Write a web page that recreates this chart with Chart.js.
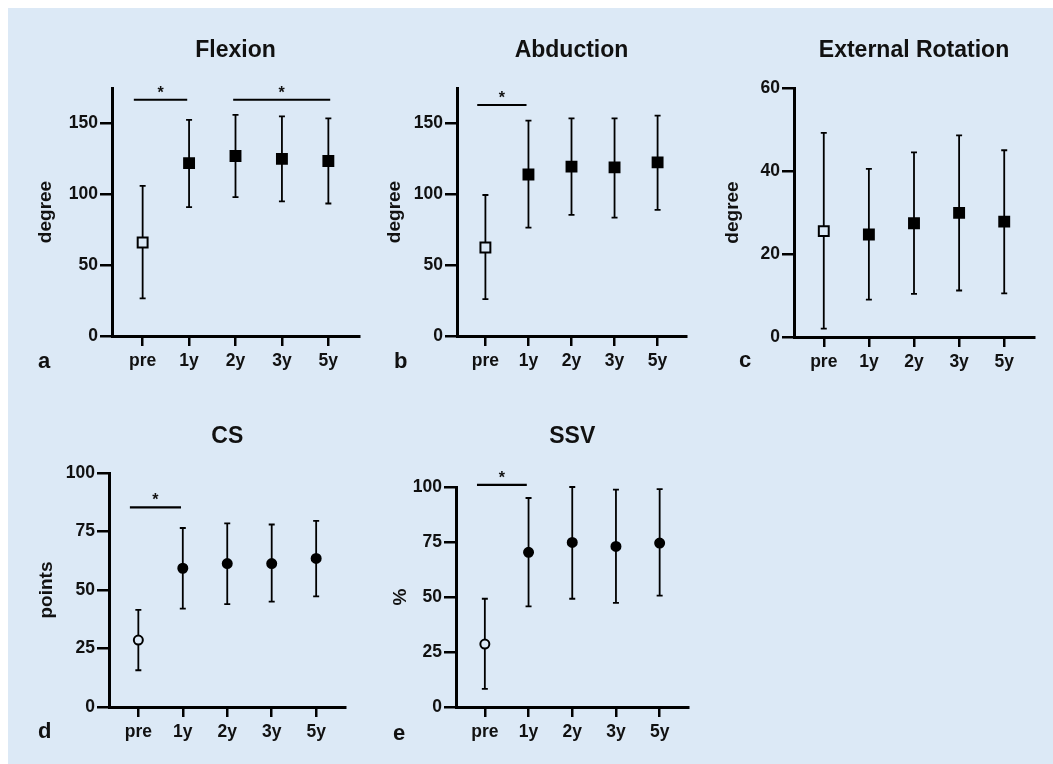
<!DOCTYPE html>
<html lang="en">
<head>
<meta charset="UTF-8">
<title>Range of motion and shoulder scores</title>
<script src="https://cdn.jsdelivr.net/npm/chart.js@4"></script>
<style>
  html, body { margin: 0; padding: 0; background: #fff; }
  #page { position: relative; width: 1053px; height: 764px; background: #fff; overflow: hidden; }
  #panel { position: absolute; left: 8px; top: 8px; right: 0; bottom: 0; background: #dce9f6; }
  canvas { position: absolute; }
</style>
</head>
<body>
<div id="page">
  <div id="panel"></div>
  <canvas id="chartA" width="360" height="373" style="left:8px;top:8px;"></canvas>
  <canvas id="chartB" width="325" height="373" style="left:370px;top:8px;"></canvas>
  <canvas id="chartC" width="343" height="374" style="left:700px;top:8px;"></canvas>
  <canvas id="chartD" width="344" height="367" style="left:8px;top:390px;"></canvas>
  <canvas id="chartE" width="325" height="367" style="left:370px;top:390px;"></canvas>
</div>

<script>
    // time points on the x axis
    const timepoints = ['pre', '1y', '2y', '3y', '5y'];

    // Flexion (degree)
    const flexionMean = [66, 122, 127, 125, 123.5];
    const flexionHigh = [106, 152.5, 156, 155, 153.5];
    const flexionLow = [26.5, 91, 98, 95, 93.5];
    const flexionTicks = [0, 50, 100, 150];
    const flexionSig = [[-0.19, 0.96, 166.7], [1.95, 4.04, 166.7]];

    // Abduction (degree)
    const abductionMean = [62.5, 114, 119.5, 119, 122.5];
    const abductionHigh = [99.5, 152, 153.5, 153.5, 155.5];
    const abductionLow = [26, 76.5, 85.5, 83.5, 89];
    const abductionTicks = [0, 50, 100, 150];
    const abductionSig = [[-0.19, 0.955, 163]];

    // External rotation (degree)
    const rotationMean = [25.5, 24.7, 27.4, 29.9, 27.8];
    const rotationHigh = [49.2, 40.5, 44.5, 48.6, 45];
    const rotationLow = [2, 9, 10.4, 11.2, 10.5];
    const rotationTicks = [0, 20, 40, 60];
    const rotationSig = [];

    // Constant score (points)
    const csMean = [28.6, 59.3, 61.3, 61.3, 63.5];
    const csHigh = [41.5, 76.5, 78.5, 78, 79.5];
    const csLow = [15.7, 42, 44, 45, 47.3];
    const csTicks = [0, 25, 50, 75, 100];
    const csSig = [[-0.19, 0.96, 85.3]];

    // Subjective shoulder value (%)
    const ssvMean = [28.6, 70.3, 74.8, 73, 74.5];
    const ssvHigh = [49.2, 95, 100, 98.8, 99];
    const ssvLow = [8.2, 45.7, 49.2, 47.3, 50.6];
    const ssvTicks = [0, 25, 50, 75, 100];
    const ssvSig = [[-0.18, 0.96, 101]];

    const BG = '#dce9f6';
    const INK = '#111';
    const FAMILY = '"Liberation Sans", Arial, Helvetica, sans-serif';
    Chart.defaults.font.family = FAMILY;

    function extras(p) {
        return {
            id: 'extras',
            beforeDatasetsDraw(chart) {
                const { ctx, scales: { x, y } } = chart;
                ctx.save();
                ctx.strokeStyle = '#000';
                ctx.lineWidth = 1.8;
                p.mean.forEach((m, i) => {
                    const px = x.getPixelForValue(i);
                    const top = y.getPixelForValue(p.high[i]);
                    const bot = y.getPixelForValue(p.low[i]);
                    ctx.beginPath();
                    ctx.moveTo(px, top); ctx.lineTo(px, bot);
                    ctx.moveTo(px - 3, top); ctx.lineTo(px + 3, top);
                    ctx.moveTo(px - 3, bot); ctx.lineTo(px + 3, bot);
                    ctx.stroke();
                });
                ctx.restore();
            },
            afterDraw(chart) {
                const { ctx, chartArea, scales: { x, y } } = chart;
                ctx.save();
                ctx.fillStyle = INK;
                // title
                ctx.font = 'bold 23px ' + FAMILY;
                ctx.textAlign = 'center';
                ctx.textBaseline = 'alphabetic';
                ctx.fillText(p.title, (chartArea.left + chartArea.right) / 2, p.titleY);
                // significance bars
                ctx.strokeStyle = '#000';
                ctx.lineWidth = 2.2;
                ctx.font = 'bold 16px ' + FAMILY;
                p.sig.forEach(([from, to, v]) => {
                    const x0 = x.getPixelForValue(from);
                    const x1 = x.getPixelForValue(to);
                    const py = y.getPixelForValue(v);
                    ctx.beginPath();
                    ctx.moveTo(x0, py); ctx.lineTo(x1, py);
                    ctx.stroke();
                    ctx.fillText('*', (x0 + x1) / 2, py - 2);
                });
                // panel letter
                ctx.font = 'bold 22px ' + FAMILY;
                ctx.textAlign = 'left';
                ctx.fillText(p.letter, p.letterX, p.letterY);
                ctx.restore();
            }
        };
    }

    function panelChart(id, p) {
        const tickFont = { family: FAMILY, size: 17.5, weight: 'bold' };
        return new Chart(document.getElementById(id), {
            type: 'scatter',
            data: {
                datasets: [{
                    data: p.mean.map((v, i) => ({ x: i, y: v })),
                    pointStyle: p.marker,
                    pointRadius: p.marker === 'rect' ? 7 : 4.5,
                    pointBorderWidth: 2,
                    pointBorderColor: '#000',
                    pointBackgroundColor: p.mean.map((_, i) => i === 0 ? BG : '#000'),
                    showLine: false
                }]
            },
            options: {
                responsive: false,
                animation: false,
                events: [],
                layout: { padding: { top: p.padTop, right: p.padRight, left: 0, bottom: 0 } },
                plugins: { legend: { display: false }, tooltip: { enabled: false } },
                scales: {
                    x: {
                        type: 'linear',
                        min: -0.66,
                        max: 4.66,
                        afterBuildTicks: s => { s.ticks = timepoints.map((_, i) => ({ value: i })); },
                        afterFit: s => { s.height = p.xHeight; },
                        ticks: { callback: v => timepoints[v], color: INK, font: tickFont, padding: 5, maxRotation: 0, autoSkip: false },
                        grid: { drawOnChartArea: false, drawTicks: true, tickLength: 10, color: '#000', lineWidth: 2.5 },
                        border: { display: true, color: '#000', width: 3 }
                    },
                    y: {
                        min: 0,
                        max: p.max,
                        afterBuildTicks: s => { s.ticks = p.ticks.map(v => ({ value: v })); },
                        afterFit: s => { s.width = p.yWidth; },
                        ticks: { color: INK, font: tickFont, padding: 2 },
                        grid: { drawOnChartArea: false, drawTicks: true, tickLength: 12, color: '#000', lineWidth: 2.5 },
                        border: { display: true, color: '#000', width: 3 },
                        title: {
                            display: true, text: p.unit, color: INK,
                            font: { family: FAMILY, size: 19, weight: 'bold' },
                            padding: { top: p.unitPad, bottom: 0 }
                        }
                    }
                }
            },
            plugins: [extras(p)]
        });
    }

    panelChart('chartA', {
        title: 'Flexion', unit: 'degree', letter: 'a', marker: 'rect',
        mean: flexionMean, high: flexionHigh, low: flexionLow, ticks: flexionTicks, sig: flexionSig, max: 175,
        yWidth: 104, xHeight: 45, padTop: 80, padRight: 5, unitPad: 26.6,
        titleY: 48.7, letterX: 30, letterY: 360
    });
    panelChart('chartB', {
        title: 'Abduction', unit: 'degree', letter: 'b', marker: 'rect',
        mean: abductionMean, high: abductionHigh, low: abductionLow, ticks: abductionTicks, sig: abductionSig, max: 175,
        yWidth: 87, xHeight: 45, padTop: 80, padRight: 5, unitPad: 13.3,
        titleY: 48.7, letterX: 24, letterY: 360
    });
    panelChart('chartC', {
        title: 'External Rotation', unit: 'degree', letter: 'c', marker: 'rect',
        mean: rotationMean, high: rotationHigh, low: rotationLow, ticks: rotationTicks, sig: rotationSig, max: 60,
        yWidth: 94, xHeight: 45, padTop: 80, padRight: 8, unitPad: 21.6,
        titleY: 48.7, letterX: 39, letterY: 358.7
    });
    panelChart('chartD', {
        title: 'CS', unit: 'points', letter: 'd', marker: 'circle',
        mean: csMean, high: csHigh, low: csLow, ticks: csTicks, sig: csSig, max: 100,
        yWidth: 101, xHeight: 50, padTop: 83, padRight: 5, unitPad: 27.1,
        titleY: 53.3, letterX: 30, letterY: 348
    });
    panelChart('chartE', {
        title: 'SSV', unit: '%', letter: 'e', marker: 'circle',
        mean: ssvMean, high: ssvHigh, low: ssvLow, ticks: ssvTicks, sig: ssvSig, max: 100,
        yWidth: 86, xHeight: 50, padTop: 97, padRight: 5, unitPad: 19.6,
        titleY: 53, letterX: 23, letterY: 350
    });
</script>
</body>
</html>
